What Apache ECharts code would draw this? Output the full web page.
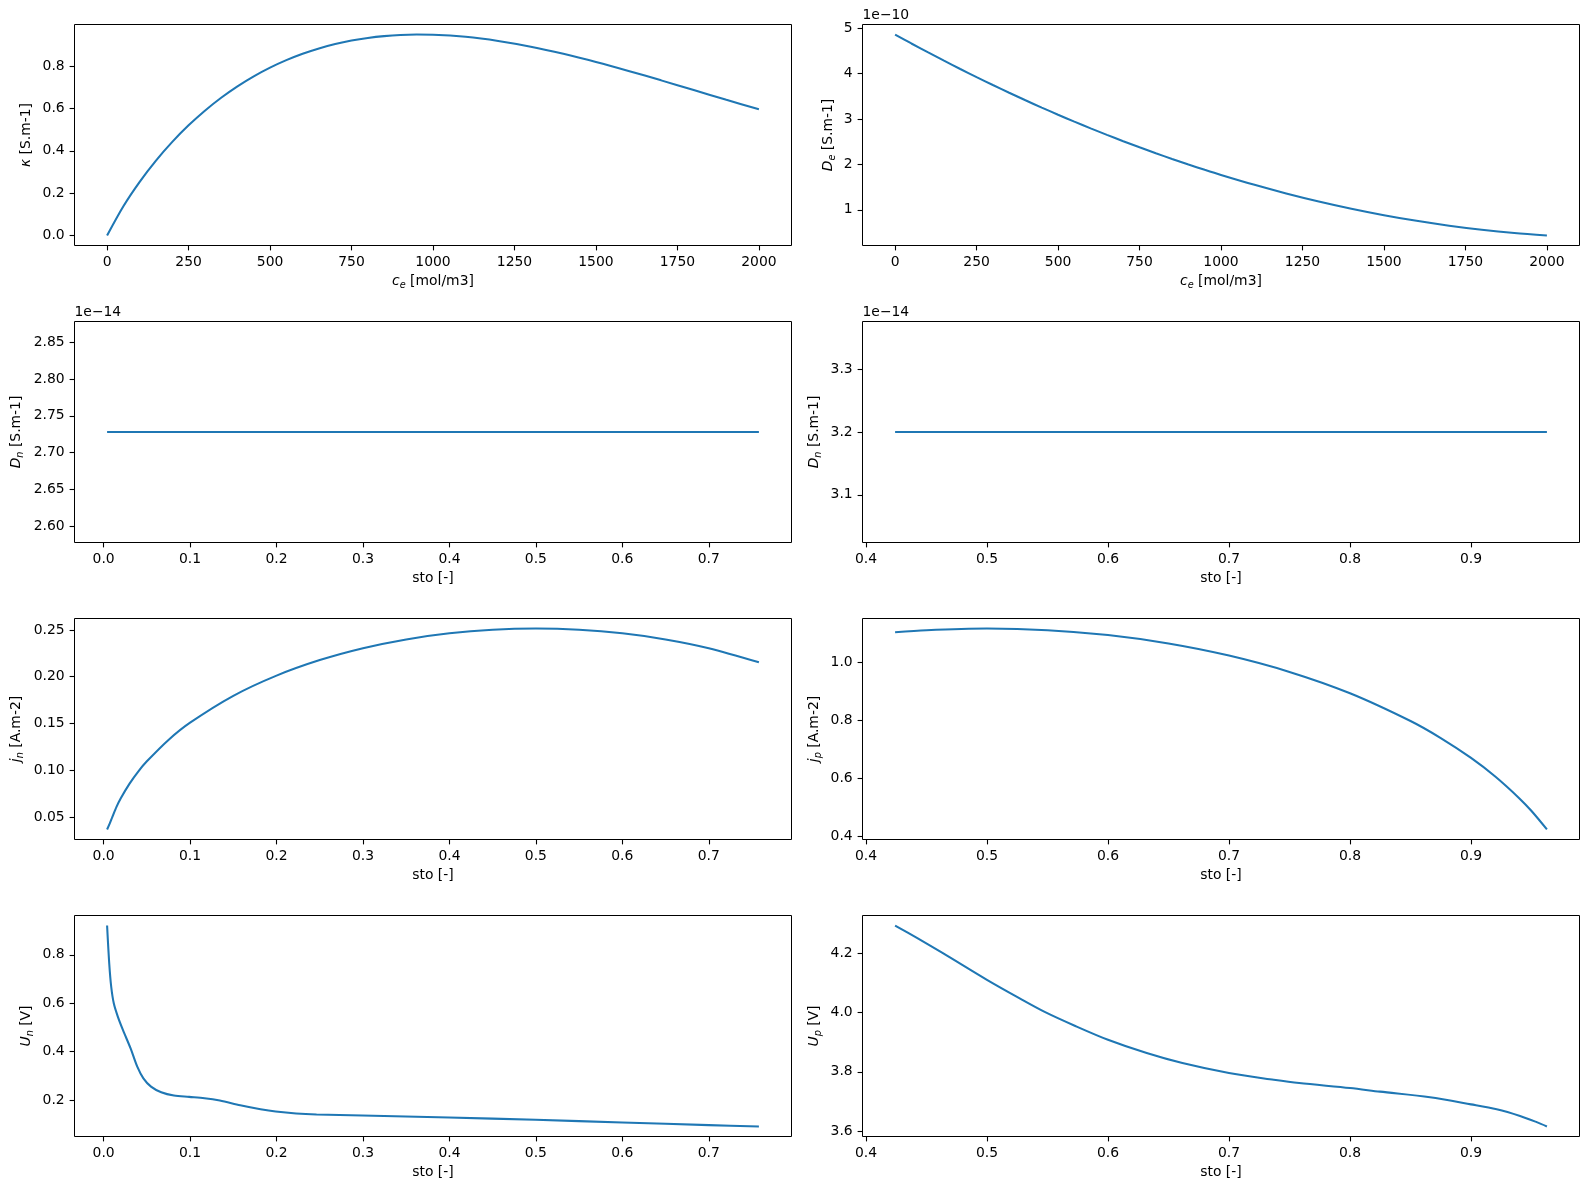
<!DOCTYPE html>
<html><head><meta charset="utf-8">
<script src="https://cdn.jsdelivr.net/npm/echarts@6/dist/echarts.min.js"></script>
<style>html,body{margin:0;padding:0;background:#fff}#c{width:1590px;height:1190px}</style>
</head><body><div id="c"></div>
<script>
// ---- data ----
const ceValues = [0,50,100,150,200,250,300,350,400,450,500,550,600,650,700,750,800,850,900,950,1000,1100,1200,1300,1400,1500,1600,1700,1800,1900,2000];
const kappaValues = [0,0.1384,0.2537,0.3540,0.4423,0.5205,0.5898,0.6510,0.7049,0.7522,0.7933,0.8287,0.8589,0.8841,0.9048,0.9212,0.9336,0.9423,0.9476,0.9496,0.9487,0.9388,0.9194,0.8923,0.8587,0.8201,0.7778,0.7330,0.6871,0.6411,0.5963];
const deValues = [4.862e-10,4.6656e-10,4.4736e-10,4.2860e-10,4.1028e-10,3.9240e-10,3.7495e-10,3.5795e-10,3.4139e-10,3.2527e-10,3.0959e-10,2.9434e-10,2.7954e-10,2.6517e-10,2.5125e-10,2.3777e-10,2.2472e-10,2.1212e-10,1.9995e-10,1.8823e-10,1.7694e-10,1.5569e-10,1.3619e-10,1.1846e-10,1.0248e-10,0.8827e-10,0.7581e-10,0.6511e-10,0.5617e-10,0.4898e-10,0.4356e-10];

const dnSto = [0.004, 0.758];
const dnValues = [2.728e-14, 2.728e-14];
const dpSto = [0.4241, 0.9627];
const dpValues = [3.2e-14, 3.2e-14];

const jnSto = [0.004,0.007,0.01,0.015,0.02,0.03,0.04,0.05,0.075,0.1,0.15,0.2,0.25,0.3,0.35,0.4,0.45,0.5,0.55,0.6,0.65,0.7,0.758];
const jnValues = [0.0368,0.0430,0.0500,0.0612,0.0704,0.0858,0.0987,0.1096,0.1325,0.1509,0.1796,0.2012,0.2178,0.2305,0.2399,0.2464,0.2502,0.2515,0.2502,0.2464,0.2399,0.2305,0.2154];

const jpSto = [0.4241,0.45,0.5,0.55,0.6,0.65,0.7,0.75,0.8,0.85,0.875,0.9,0.92,0.94,0.95,0.9627];
const jpValues = [1.102,1.1094,1.115,1.1094,1.0925,1.0636,1.0219,0.9656,0.892,0.7963,0.7375,0.669,0.605,0.5296,0.486,0.4226];

const unSto = [0.004,0.0065,0.0088,0.0118,0.0165,0.0224,0.0312,0.0389,0.046,0.0548,0.0666,0.0813,0.099,0.1167,0.1344,0.158,0.1815,0.199,0.2227,0.2463,0.2993,0.3995,0.4997,0.5999,0.7,0.758];
const unValues = [0.9205,0.763,0.667,0.5986,0.5438,0.489,0.4137,0.3384,0.2904,0.2562,0.2329,0.2192,0.2137,0.2082,0.1986,0.1795,0.163,0.1534,0.1452,0.1411,0.137,0.1288,0.1192,0.1082,0.0973,0.0918];

const upSto = [0.4241,0.4425,0.4636,0.5,0.5267,0.5477,0.573,0.6,0.632,0.6615,0.7,0.737,0.758,0.8,0.8248,0.8661,0.9,0.9212,0.9405,0.9543,0.9627];
const upValues = [4.2933,4.2506,4.200,4.110,4.0483,4.002,3.9545,3.9079,3.863,3.8292,3.7955,3.773,3.7618,3.745,3.7329,3.714,3.690,3.6735,3.651,3.630,3.6155];

// ---- tick labels ----
const ceTicks = [0,250,500,750,1000,1250,1500,1750,2000];
const kappaTicks = [0,0.2,0.4,0.6,0.8];
const deTicks = [1e-10,2e-10,3e-10,4e-10,5e-10];
const stoNTicks = [0,0.1,0.2,0.3,0.4,0.5,0.6,0.7];
const stoPTicks = [0.4,0.5,0.6,0.7,0.8,0.9];
const dnTicks = [2.60e-14,2.65e-14,2.70e-14,2.75e-14,2.80e-14,2.85e-14];
const dpTicks = [3.1e-14,3.2e-14,3.3e-14];
const jnTicks = [0.05,0.10,0.15,0.20,0.25];
const jpTicks = [0.4,0.6,0.8,1.0];
const unTicks = [0.2,0.4,0.6,0.8];
const upTicks = [3.6,3.8,4.0,4.2];

// ---- layout ----
const FONT = 'DejaVu Sans';
const FS = 13.9;
const colLeft = [74.5, 862.5];
const rowTop = [24.5, 321.5, 618.5, 915.5];
const W = 717, H = 221;

function lim(arr) { // matplotlib-like autoscale with 5% margins
  let lo = Math.min(...arr), hi = Math.max(...arr);
  if (hi - lo < 1e-6 * Math.abs(hi)) { lo = lo - 0.05 * Math.abs(lo); hi = hi + 0.05 * Math.abs(hi); }
  const r = hi - lo;
  return [lo - 0.05 * r, hi + 0.05 * r];
}
const rich = {
  it: {fontStyle: 'italic', fontSize: FS, fontFamily: FONT, color: '#000', lineHeight: 18},
  sub: {fontStyle: 'italic', fontSize: 9.7, fontFamily: FONT, color: '#000', lineHeight: 10, verticalAlign: 'bottom'},
  n: {fontSize: FS, fontFamily: FONT, color: '#000', lineHeight: 18}
};
function axis(gi, l, ticks, fmt, name, gap) {
  return {
    type: 'value', gridIndex: gi, min: l[0], max: l[1], scale: true,
    axisLine: {show: false, onZero: false}, splitLine: {show: false},
    axisTick: {show: true, inside: false, length: 4.9, lineStyle: {color: '#000', width: 1.1}, customValues: ticks},
    axisLabel: {show: true, margin: 9.8, color: '#000', fontSize: FS, fontFamily: FONT, formatter: fmt, customValues: ticks},
    name: name, nameLocation: 'middle', nameGap: gap,
    nameTextStyle: {color: '#000', fontSize: FS, fontFamily: FONT, rich: rich}
  };
}
const f = d => (v => Number(v).toFixed(d));
const fs = (s, d) => (v => (v / s).toFixed(d));

const panels = [
  {x: ceValues, y: kappaValues, xt: ceTicks, yt: kappaTicks, xf: f(0), yf: f(1), xn: '{it|c}{sub|e}{n| [mol/m3]}', yn: '{it|κ}{n| [S.m-1]}', yg: 39},
  {x: ceValues, y: deValues, xt: ceTicks, yt: deTicks, xf: f(0), yf: fs(1e-10, 0), xn: '{it|c}{sub|e}{n| [mol/m3]}', yn: '{it|D}{sub|e}{n| [S.m-1]}', yg: 25, off: '1e\u221210'},
  {x: dnSto, y: dnValues, xt: stoNTicks, yt: dnTicks, xf: f(1), yf: fs(1e-14, 2), xn: '{n|sto [-]}', yn: '{it|D}{sub|n}{n| [S.m-1]}', yg: 49, off: '1e\u221214'},
  {x: dpSto, y: dpValues, xt: stoPTicks, yt: dpTicks, xf: f(1), yf: fs(1e-14, 1), xn: '{n|sto [-]}', yn: '{it|D}{sub|n}{n| [S.m-1]}', yg: 39, off: '1e\u221214'},
  {x: jnSto, y: jnValues, xt: stoNTicks, yt: jnTicks, xf: f(1), yf: f(2), xn: '{n|sto [-]}', yn: '{it|j}{sub|n}{n| [A.m-2]}', yg: 49},
  {x: jpSto, y: jpValues, xt: stoPTicks, yt: jpTicks, xf: f(1), yf: f(1), xn: '{n|sto [-]}', yn: '{it|j}{sub|p}{n| [A.m-2]}', yg: 39},
  {x: unSto, y: unValues, xt: stoNTicks, yt: unTicks, xf: f(1), yf: f(1), xn: '{n|sto [-]}', yn: '{it|U}{sub|n}{n| [V]}', yg: 39},
  {x: upSto, y: upValues, xt: stoPTicks, yt: upTicks, xf: f(1), yf: f(1), xn: '{n|sto [-]}', yn: '{it|U}{sub|p}{n| [V]}', yg: 39}
];

const grid = [], xAxis = [], yAxis = [], series = [], graphic = [];
panels.forEach((p, i) => {
  const c = i % 2, r = Math.floor(i / 2);
  grid.push({left: colLeft[c], top: rowTop[r], width: W, height: H, show: true, borderColor: '#000', borderWidth: 1, backgroundColor: 'rgba(0,0,0,0)'});
  xAxis.push(axis(i, lim(p.x), p.xt, p.xf, p.xn, 27));
  yAxis.push(axis(i, lim(p.y), p.yt, p.yf, p.yn, p.yg));
  series.push({
    type: 'line', xAxisIndex: i, yAxisIndex: i,
    data: p.x.map((v, k) => [v, p.y[k]]),
    showSymbol: false, symbol: 'none', smooth: 0.3,
    lineStyle: {color: '#1f77b4', width: 2.08}, silent: true, clip: true
  });
  if (p.off) {
    graphic.push({type: 'text', x: colLeft[c], y: rowTop[r] - 2, silent: true,
      style: {text: p.off, font: FS + 'px "' + FONT + '"', fill: '#000', align: 'left', verticalAlign: 'bottom'}});
  }
});

const chart = echarts.init(document.getElementById('c'), null, {renderer: 'canvas'});
chart.setOption({animation: false, backgroundColor: '#fff', grid, xAxis, yAxis, series, graphic});
</script></body></html>
